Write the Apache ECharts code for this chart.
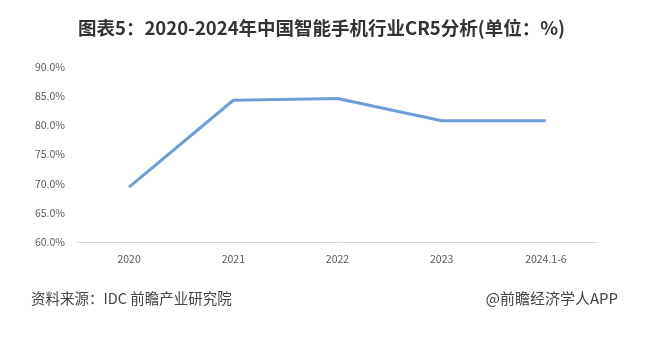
<!DOCTYPE html>
<html><head><meta charset="utf-8">
<script src="https://cdn.jsdelivr.net/npm/echarts@6/dist/echarts.min.js"></script>
<style>html,body{margin:0;padding:0;background:#fff;}#c{width:647px;height:347px;}</style>
</head><body><div id="c"></div>
<script>
const categories = ['2020', '2021', '2022', '2023', '2024.1-6'];
const cr5Values = [69.4, 84.3, 84.6, 80.8, 80.8];
const yTicks = [60, 65, 70, 75, 80, 85, 90];
const titleText = '图表5：2020-2024年中国智能手机行业CR5分析(单位：%)';
const sourceText = '资料来源：IDC 前瞻产业研究院';
const brandText = '@前瞻经济学人APP';

const chart = echarts.init(document.getElementById('c'), null, {renderer: 'canvas'});
const font = '"Noto Sans CJK SC", "Liberation Sans", sans-serif';
chart.setOption({
  backgroundColor: '#fff',
  animation: false,
  title: {
    text: titleText, left: 73, top: 14,
    textStyle: {fontSize: 18.5, fontWeight: 'bold', color: '#333', fontFamily: font}
  },
  graphic: [
    {type: 'text', left: 31, top: 291, style: {text: sourceText, fontSize: 14.5, fill: '#444', fontFamily: font}},
    {type: 'text', right: 29, top: 291, style: {text: brandText, fontSize: 15, fill: '#444', fontFamily: font}}
  ],
  grid: {left: 77, right: 49, top: 67, bottom: 105},
  xAxis: {
    type: 'category', data: categories, boundaryGap: true,
    axisLine: {lineStyle: {color: '#d9d9d9', width: 1}},
    axisTick: {show: false},
    axisLabel: {color: '#595959', fontSize: 10.5, margin: 12, fontFamily: font}
  },
  yAxis: {
    type: 'value', min: yTicks[0], max: yTicks[yTicks.length - 1], interval: 5,
    axisLine: {show: false}, axisTick: {show: false},
    splitLine: {show: false},
    axisLabel: {color: '#595959', fontSize: 10.5, margin: 12, fontFamily: font,
      formatter: v => v.toFixed(1) + '%'}
  },
  series: [{
    type: 'line', data: cr5Values, showSymbol: false, symbol: 'none',
    lineStyle: {color: '#6f9fd8', width: 3}
  }]
});
</script></body></html>
